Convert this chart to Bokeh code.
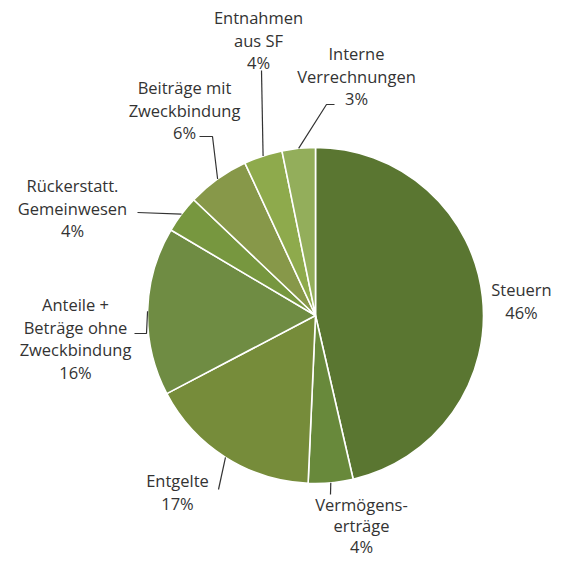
import math
from bokeh.plotting import figure
from bokeh.models import ColumnDataSource, Range1d
from bokeh.core.properties import value
from bokeh.embed import file_html
from bokeh.resources import INLINE

# ---- data ----
categories = ["Steuern", "Vermögenserträge", "Entgelte",
              "Anteile + Beträge ohne Zweckbindung", "Rückerstatt. Gemeinwesen",
              "Beiträge mit Zweckbindung", "Entnahmen aus SF", "Interne Verrechnungen"]
label_lines = [["Steuern"], ["Vermögens-", "erträge"], ["Entgelte"],
               ["Anteile +", "Beträge ohne", "Zweckbindung"], ["Rückerstatt.", "Gemeinwesen"],
               ["Beiträge mit", "Zweckbindung"], ["Entnahmen", "aus SF"], ["Interne", "Verrechnungen"]]
shares = [46.4, 4.3, 16.6, 16.2, 3.6, 6.0, 3.7, 3.2]
colors = ["#5a7631", "#68893b", "#768c3a", "#6f8c43", "#77973f", "#879849", "#8eaa4c", "#93ae5b"]

# ---- layout (picture pixel coordinates) ----
W = 562
CX, CY, R = 315, 315, 168
text_pos = [(521, 289), (361, 504), (177, 480), (75, 304), (72, 185), (184, 87), (258, 17), (356, 53)]
line_h = [22.5, 21.0, 22.5, 22.5, 22.5, 22.5, 22.5, 22.5]
leader_pts = [[], [(330, 494)], [(218, 489)], [(134, 333), (146, 333)], [(137, 212)],
              [(199, 136), (212, 136)], [(261, 70)], [(334, 104), (326, 104)]]


def Y(yimg):
    return W - yimg


total = sum(shares)
starts, ends, mids = [], [], []
cum = 0.0
for s in shares:
    a0 = cum / total * 2 * math.pi
    cum += s
    a1 = cum / total * 2 * math.pi
    starts.append(math.pi / 2 - a0)
    ends.append(math.pi / 2 - a1)
    mids.append((a0 + a1) / 2)

p = figure(width=W, height=W, output_backend="svg", toolbar_location=None,
           x_range=Range1d(0, W), y_range=Range1d(0, W),
           x_axis_type=None, y_axis_type=None, min_border=0)
p.grid.visible = False
p.outline_line_color = None
p.background_fill_color = "white"

src = ColumnDataSource(dict(start=starts, end=ends, color=colors, cat=categories))
p.wedge(x=CX, y=Y(CY), radius=R, start_angle="start", end_angle="end", direction="clock",
        fill_color="color", line_color="white", line_width=1.6, source=src)

# leader lines
xs, ys = [], []
for i, pts in enumerate(leader_pts):
    if not pts:
        continue
    ex = CX + R * math.sin(mids[i])
    ey = CY - R * math.cos(mids[i])
    allp = pts + [(ex, ey)]
    xs.append([q[0] for q in allp])
    ys.append([Y(q[1]) for q in allp])
p.multi_line(xs=xs, ys=ys, line_color="#333333", line_width=1.2)

# labels
tx, ty, tt = [], [], []
for i, lines in enumerate(label_lines):
    full = lines + [f"{round(shares[i])}%"]
    x0, y0 = text_pos[i]
    for j, t in enumerate(full):
        tx.append(x0)
        ty.append(Y(y0 + j * line_h[i]))
        tt.append(t)
p.text(x=tx, y=ty, text=tt, text_align="center", text_baseline="middle",
       text_font=value("Open Sans"), text_font_size="16.5px", text_color="#333333")

open("out.html", "w").write(file_html(p, INLINE))
